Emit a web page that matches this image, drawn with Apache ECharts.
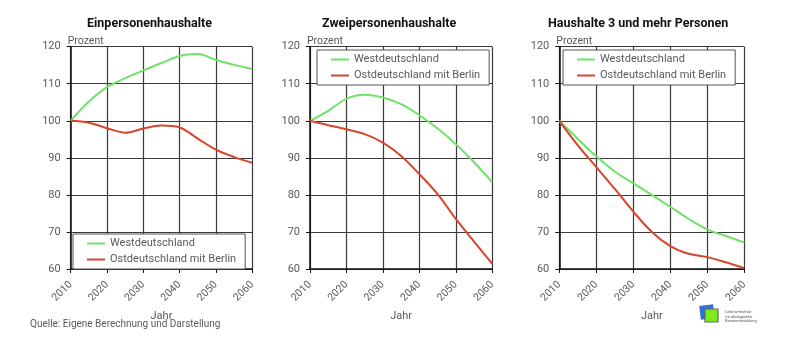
<!DOCTYPE html>
<html>
<head>
<meta charset="utf-8">
<script src="https://cdn.jsdelivr.net/npm/echarts@6/dist/echarts.min.js"></script>
<style>
  html, body { margin: 0; padding: 0; background: #fff; }
  #main { width: 800px; height: 352px; }
</style>
</head>
<body>
<div id="main"></div>
<script>
  // Jahre (5-Jahres-Schritte)
  var years = [2010, 2015, 2020, 2025, 2030, 2035, 2040, 2045, 2050, 2055, 2060];
  var titles = ['Einpersonenhaushalte', 'Zweipersonenhaushalte', 'Haushalte 3 und mehr Personen'];
  var seriesNames = ['Westdeutschland', 'Ostdeutschland mit Berlin'];
  var yTicks = [60, 70, 80, 90, 100, 110, 120];

  // Einpersonenhaushalte
  var west1 = [100, 105.2, 109.1, 111.5, 113.6, 115.6, 117.5, 118.0, 116.4, 115.1, 114.0];
  var ost1  = [100, 99.5, 98.0, 96.8, 97.9, 98.7, 98.2, 95.2, 92.2, 90.2, 88.7];
  // Zweipersonenhaushalte
  var west2 = [100, 102.7, 105.9, 107.0, 106.3, 104.5, 101.5, 97.9, 93.7, 88.8, 83.4];
  var ost2  = [100, 98.8, 97.7, 96.4, 94.1, 90.5, 85.6, 80.2, 73.5, 67.4, 61.4];
  // Haushalte 3 und mehr Personen
  var west3 = [100, 95.1, 90.4, 86.3, 83.1, 80.0, 76.8, 73.5, 70.7, 68.9, 67.2];
  var ost3  = [100, 93.4, 87.5, 81.6, 75.5, 70.0, 66.2, 64.1, 63.2, 61.8, 60.2];

  var westData = [west1, west2, west3];
  var ostData = [ost1, ost2, ost3];

  var green = '#6fe267';
  var red = '#d8442c';
  var lineCol = '#3a3a3a';
  var textCol = '#5a5a5a';
  var font = 'Roboto';

  var gridLefts = [70.7, 310, 559.3];
  var gridWidths = [181.5, 182.3, 185];
  var titleX = [82, 317, 543];
  var legendPos = [
    { left: 73, top: 234 },
    { left: 317, top: 50 },
    { left: 563, top: 50 }
  ];

  var grids = [], xAxes = [], yAxes = [], series = [], legends = [], titleList = [];

  for (var i = 0; i < 3; i++) {
    grids.push({ left: gridLefts[i], width: gridWidths[i], top: 46.7, bottom: 83 });
    titleList.push({
      text: titles[i], left: titleX[i], top: 12,
      textStyle: { fontFamily: font, fontSize: 12.5, fontWeight: 'bold', color: '#111' }
    });
    xAxes.push({
      type: 'value', gridIndex: i, min: 2010, max: 2060, interval: 10,
      name: 'Jahr', nameLocation: 'middle', nameGap: 40,
      nameTextStyle: { fontFamily: font, fontSize: 11, color: textCol },
      axisLine: { show: true, onZero: false, lineStyle: { color: '#111', width: 1.5 } },
      axisTick: { show: true, length: 4, lineStyle: { color: '#111' } },
      axisLabel: { rotate: 45, fontFamily: font, fontSize: 10.5, color: textCol, margin: 14,
                   formatter: function (v) { return String(v); } },
      splitLine: { show: true, lineStyle: { color: lineCol, width: 1.2 } }
    });
    yAxes.push({
      type: 'value', gridIndex: i, min: yTicks[0], max: yTicks[yTicks.length - 1], interval: 10,
      name: 'Prozent', nameLocation: 'end', nameGap: 0,
      nameTextStyle: { fontFamily: font, fontSize: 10.5, color: textCol, align: 'left', padding: [0, 0, 0, -3] },
      axisLine: { show: true, lineStyle: { color: '#111', width: 1.5 } },
      axisTick: { show: true, length: 4, lineStyle: { color: '#111' } },
      axisLabel: { fontFamily: font, fontSize: 11, color: textCol, margin: 10 },
      splitLine: { show: true, lineStyle: { color: lineCol, width: 1.2 } }
    });
    var wd = years.map(function (y, k) { return [y, westData[i][k]]; });
    var od = years.map(function (y, k) { return [y, ostData[i][k]]; });
    series.push({
      name: seriesNames[0], type: 'line', xAxisIndex: i, yAxisIndex: i,
      smooth: 0.35, smoothMonotone: 'none', showSymbol: false, data: wd,
      lineStyle: { color: green, width: 2 }, itemStyle: { color: green }
    });
    series.push({
      name: seriesNames[1], type: 'line', xAxisIndex: i, yAxisIndex: i,
      smooth: 0.35, smoothMonotone: 'none', showSymbol: false, data: od,
      lineStyle: { color: red, width: 2 }, itemStyle: { color: red }
    });
    legends.push({
      data: seriesNames, orient: 'vertical', left: legendPos[i].left, top: legendPos[i].top,
      backgroundColor: '#fff', borderColor: '#555', borderWidth: 1,
      padding: [4, 9, 4, 14], itemGap: 5, itemWidth: 18, itemHeight: 2,
      icon: 'rect',
      textStyle: { fontFamily: font, fontSize: 11, color: textCol, padding: [0, 0, 0, 0] }
    });
  }

  var option = {
    animation: false,
    title: titleList,
    legend: legends,
    grid: grids,
    xAxis: xAxes,
    yAxis: yAxes,
    series: series,
    graphic: [
      {
        type: 'text', left: 30, top: 319,
        style: { text: 'Quelle: Eigene Berechnung und Darstellung', fontFamily: font, fontSize: 10, fill: textCol }
      },
      // Logo
      { type: 'rect', shape: { x: 700, y: 305, width: 14, height: 14 }, rotation: 0.12, originX: 707, originY: 312,
        style: { fill: '#2f6fd8' } },
      { type: 'rect', shape: { x: 705, y: 309, width: 13, height: 13 },
        style: { fill: '#7dea1e', stroke: '#666', lineWidth: 1.2 } },
      {
        type: 'text', left: 725, top: 310,
        style: { text: 'Leibniz-Institut\nfür ökologische\nRaumentwicklung', fontFamily: font, fontSize: 4, lineHeight: 4.5, fill: '#555' }
      }
    ]
  };

  var chart = echarts.init(document.getElementById('main'));
  chart.setOption(option);
</script>
</body>
</html>
